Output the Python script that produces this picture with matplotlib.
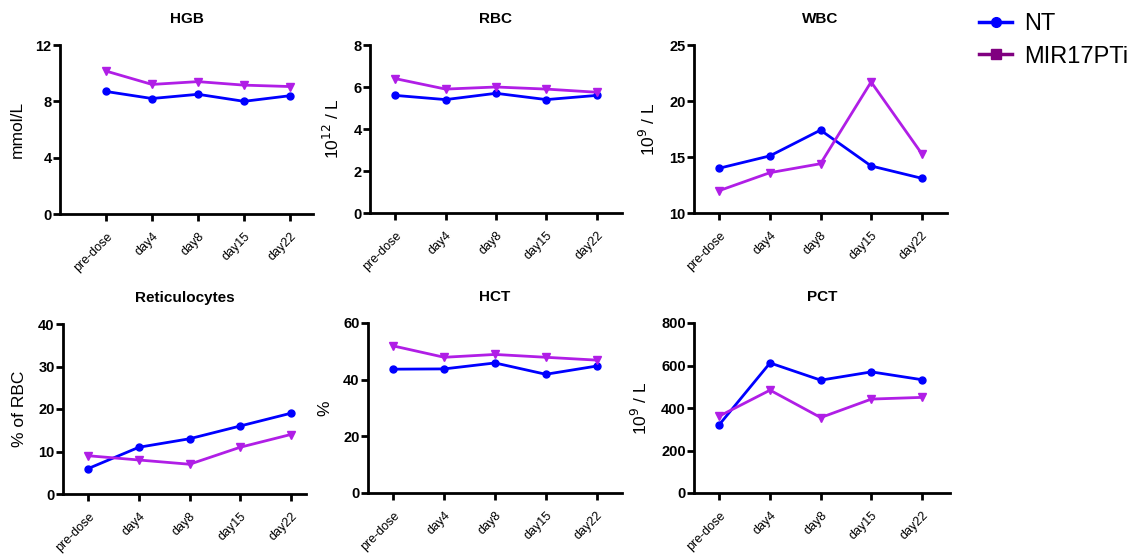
import matplotlib.pyplot as plt
from matplotlib.lines import Line2D

plt.rcParams['font.family'] = ['Liberation Sans', 'DejaVu Sans']

days = ["pre-dose", "day4", "day8", "day15", "day22"]

# values
hgb_nt = [8.7, 8.2, 8.5, 8.0, 8.4]
hgb_mir = [10.15, 9.2, 9.4, 9.15, 9.05]
rbc_nt = [5.6, 5.4, 5.7, 5.4, 5.6]
rbc_mir = [6.4, 5.9, 6.0, 5.9, 5.75]
wbc_nt = [14.0, 15.1, 17.4, 14.2, 13.1]
wbc_mir = [12.0, 13.6, 14.4, 21.7, 15.3]
ret_nt = [6, 11, 13, 16, 19]
ret_mir = [9, 8, 7, 11, 14]
hct_nt = [43.7, 43.8, 45.9, 41.9, 44.8]
hct_mir = [51.9, 47.9, 48.9, 47.9, 46.9]
pct_nt = [322, 612, 531, 570, 533]
pct_mir = [362, 484, 355, 442, 450]

titles = ["HGB", "RBC", "WBC", "Reticulocytes", "HCT", "PCT"]
ylabels = ["mmol/L", "10$^{12}$ / L", "10$^{9}$ / L", "% of RBC", "%", "10$^{9}$ / L"]
nt_all = [hgb_nt, rbc_nt, wbc_nt, ret_nt, hct_nt, pct_nt]
mir_all = [hgb_mir, rbc_mir, wbc_mir, ret_mir, hct_mir, pct_mir]
ylims = [(0, 12), (0, 8), (10, 25), (0, 40), (0, 60), (0, 800)]
yticks = [[0, 4, 8, 12], [0, 2, 4, 6, 8], [10, 15, 20, 25],
          [0, 10, 20, 30, 40], [0, 20, 40, 60], [0, 200, 400, 600, 800]]
xlims = [(-1, 4.5), (-0.5, 4.5), (-0.5, 4.5), (-0.5, 4.3), (-0.5, 4.5), (-0.5, 4.55)]

W, H = 1148, 556
# axes boxes in pixels: left, right, top, bottom
boxes = [(60, 313, 45, 214), (370, 622, 45, 213), (694, 947, 45, 213),
         (63, 306, 324, 494), (368, 622, 323, 493), (694, 950, 323, 493)]

blue = "#0000FF"
purple = "#B01EE6"

fig = plt.figure(figsize=(W / 100, H / 100), dpi=100)

for i in range(6):
    l, r, t, b = boxes[i]
    ax = fig.add_axes([l / W, 1 - b / H, (r - l) / W, (b - t) / H])
    x = range(len(days))
    ax.plot(x, nt_all[i], color=blue, lw=2, marker="o", ms=5, clip_on=False)
    ax.plot(x, mir_all[i], color=purple, lw=2, marker="v", ms=6, clip_on=False)
    ax.set_xlim(*xlims[i])
    ax.set_ylim(*ylims[i])
    ax.set_yticks(yticks[i])
    ax.set_xticks(list(x))
    ax.set_xticklabels(days, rotation=45, ha="right", rotation_mode="anchor",
                       fontsize=9, family=['Liberation Sans Narrow', 'Liberation Sans'])
    ax.spines["top"].set_visible(False)
    ax.spines["right"].set_visible(False)
    ax.spines["left"].set_linewidth(2)
    ax.spines["bottom"].set_linewidth(2)
    ax.tick_params(axis="both", width=2, length=5, direction="out")
    ax.tick_params(axis="y", labelsize=10.5, pad=1)
    ax.tick_params(axis="x", pad=7)
    for lab in ax.get_yticklabels():
        lab.set_fontweight("bold")
    ax.set_title(titles[i], fontsize=11, fontweight="bold", pad=16)
    ax.set_ylabel(ylabels[i], fontsize=12.5, labelpad=8)

handles = [Line2D([0], [0], color=blue, lw=2.5, marker="o", ms=7),
           Line2D([0], [0], color="#800080", lw=2.5, marker="s", ms=7)]
fig.legend(handles, ["NT", "MIR17PTi"], loc="upper left",
           bbox_to_anchor=(979 / W, 1 - 13 / H), frameon=False, fontsize=17,
           handlelength=1.4, handletextpad=0.5, labelspacing=0.45,
           borderpad=0, borderaxespad=0)

fig.savefig("out.png", dpi=100)
